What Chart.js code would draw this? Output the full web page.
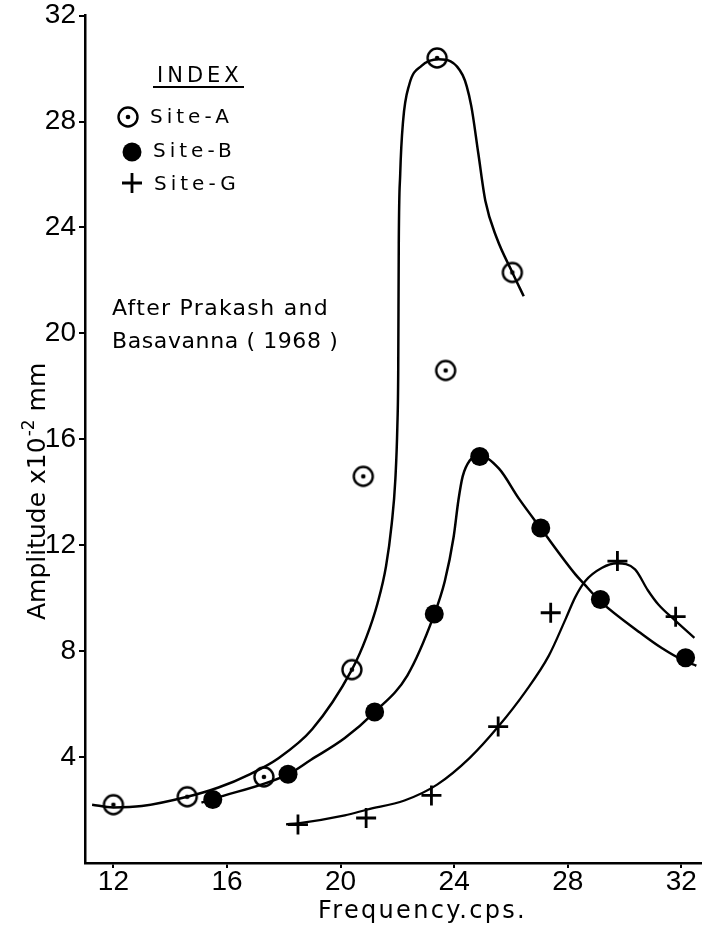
<!DOCTYPE html>
<html>
<head>
<meta charset="utf-8">
<title>Amplitude x Frequency</title>
<script src="https://cdn.jsdelivr.net/npm/chart.js@4.4.0/dist/chart.umd.min.js"></script>
<style>
  html, body { margin: 0; padding: 0; background: #fff; }
  #wrap { width: 714px; height: 930px; position: relative; }
</style>
</head>
<body>
<div id="wrap"><canvas id="grafico"></canvas></div>
<script>
// pontos medidos (frequencia em cps, amplitude x10^-2 mm)
const siteAFreq = [12, 14.6, 17.3, 20.4, 20.8, 23.7, 23.4, 26.05];
const siteAAmp  = [2.2, 2.5, 3.25, 7.3, 14.6, 18.6, 30.4, 22.3];

const siteBFreq = [15.5, 18.15, 21.2, 23.3, 24.9, 27.05, 29.15, 32.15];
const siteBAmp  = [2.4, 3.35, 5.7, 9.4, 15.35, 12.65, 9.95, 7.75];

const siteGFreq = [18.5, 20.9, 23.2, 25.55, 27.4, 29.75, 31.8];
const siteGAmp  = [1.45, 1.7, 2.55, 5.15, 9.45, 11.4, 9.3];

// curvas ajustadas, lidas ao longo do traco desenhado
const curvaAFreq = [11.25, 12, 13, 14.6, 15.7, 16.8, 17.8, 19.0, 20.4, 20.9, 21.3, 21.6, 21.8, 21.93, 22.0, 22.03, 22.05, 22.1, 22.2, 22.42, 22.85, 23.45, 24.3, 24.6, 24.85, 25.1, 25.5, 26.05, 26.45];
const curvaAAmp  = [2.2, 2.1, 2.15, 2.5, 2.85, 3.35, 3.95, 5.05, 7.3, 8.5, 9.8, 11.2, 12.8, 14.5, 16.5, 18.5, 23.4, 26.0, 28.0, 29.4, 30.1, 30.35, 29.75, 28.6, 26.8, 25.0, 23.6, 22.3, 21.4];

const curvaBFreq = [15.1, 15.5, 18.15, 18.96, 20.15, 21.2, 22.35, 23.28, 23.67, 23.98, 24.15, 24.3, 24.55, 24.9, 25.58, 26.28, 27.05, 28.27, 28.55, 29.14, 30.61, 31.31, 32.11, 32.53];
const curvaBAmp  = [2.28, 2.42, 3.35, 3.9, 4.72, 5.7, 7.08, 9.33, 10.64, 12.3, 13.7, 14.6, 15.2, 15.4, 14.89, 13.76, 12.64, 10.9, 10.57, 9.89, 8.65, 8.12, 7.63, 7.45];

const curvaGFreq = [18.08, 18.5, 20.15, 20.95, 22.25, 23.4, 24.55, 25.57, 26.53, 27.33, 27.92, 28.27, 28.62, 29.21, 29.74, 30.37, 30.82, 31.2, 31.76, 32.46];
const curvaGAmp  = [1.46, 1.5, 1.8, 2.02, 2.36, 2.96, 3.97, 5.17, 6.5, 7.82, 9.2, 10.05, 10.65, 11.15, 11.32, 11.09, 10.3, 9.75, 9.18, 8.5];

const freqTicks = [12, 16, 20, 24, 28, 32];
const ampTicks  = [4, 8, 12, 16, 20, 24, 28, 32];

const legendas = ['Site-A', 'Site-B', 'Site-G'];

function pares(xs, ys) {
  return xs.map((x, i) => ({ x: x, y: ys[i] }));
}

// circulo aberto com ponto no centro (Site-A)
function marcaSiteA() {
  const c = document.createElement('canvas');
  c.width = 26; c.height = 26;
  const g = c.getContext('2d');
  g.strokeStyle = '#000';
  g.fillStyle = '#000';
  g.lineWidth = 2.4;
  g.beginPath(); g.arc(13, 13, 9.5, 0, Math.PI * 2); g.stroke();
  g.beginPath(); g.arc(13, 13, 2.3, 0, Math.PI * 2); g.fill();
  return c;
}
const marcaA = marcaSiteA();

//#region textos: indice, nota e titulos dos eixos
const anotacoes = {
  id: 'anotacoes',
  afterDraw(chart) {
    const ctx = chart.ctx;
    ctx.save();
    ctx.fillStyle = '#000';
    ctx.strokeStyle = '#000';
    ctx.textAlign = 'left';
    ctx.textBaseline = 'alphabetic';

    ctx.font = '21px "DejaVu Sans"';
    ctx.letterSpacing = '4px';
    ctx.fillText('INDEX', 157, 82);
    ctx.lineWidth = 2;
    ctx.beginPath(); ctx.moveTo(153, 87); ctx.lineTo(244, 87); ctx.stroke();

    ctx.font = '20px "DejaVu Sans"';
    ctx.letterSpacing = '4px';
    ctx.fillText(legendas[0], 150, 123);
    ctx.fillText(legendas[1], 153, 157);
    ctx.fillText(legendas[2], 154, 190);

    // simbolos do indice
    ctx.drawImage(marcaA, 128 - 13, 117 - 13);
    ctx.beginPath(); ctx.arc(132, 152, 9.5, 0, Math.PI * 2); ctx.fill();
    ctx.lineWidth = 2.8;
    ctx.beginPath();
    ctx.moveTo(122, 183); ctx.lineTo(142, 183);
    ctx.moveTo(132, 173); ctx.lineTo(132, 193);
    ctx.stroke();

    ctx.font = '22px "DejaVu Sans"';
    ctx.letterSpacing = '1.3px';
    ctx.fillText('After Prakash and', 112, 315);
    ctx.letterSpacing = '0.6px';
    ctx.fillText('Basavanna ( 1968 )', 112, 348);

    // titulo do eixo x
    ctx.font = '24px "DejaVu Sans"';
    ctx.letterSpacing = '2.3px';
    ctx.fillText('Frequency.cps.', 318, 918);

    // titulo do eixo y, girado
    ctx.letterSpacing = '0px';
    ctx.translate(45, 620);
    ctx.rotate(-Math.PI / 2);
    ctx.font = '25px "DejaVu Sans"';
    const t1 = 'Amplitude x10';
    ctx.fillText(t1, 0, 0);
    let w = ctx.measureText(t1).width;
    ctx.font = '17px "DejaVu Sans"';
    ctx.fillText('-2', w + 1, -11);
    w += ctx.measureText('-2').width + 1;
    ctx.font = '25px "DejaVu Sans"';
    ctx.fillText(' mm', w, 0);

    ctx.restore();
  }
};
//#endregion

const ctx = document.getElementById('grafico').getContext('2d');

const estiloCurva = {
  type: 'line',
  borderColor: '#000',
  pointRadius: 0,
  cubicInterpolationMode: 'monotone',
  fill: false
};

new Chart(ctx, {
  type: 'scatter',
  data: {
    datasets: [
      {
        label: legendas[0],
        data: pares(siteAFreq, siteAAmp),
        pointStyle: marcaA,
        pointRadius: 10,
        showLine: false
      },
      {
        label: legendas[1],
        data: pares(siteBFreq, siteBAmp),
        pointStyle: 'circle',
        pointRadius: 9.5,
        backgroundColor: '#000',
        borderColor: '#000',
        borderWidth: 0,
        showLine: false
      },
      {
        label: legendas[2],
        data: pares(siteGFreq, siteGAmp),
        pointStyle: 'cross',
        pointRadius: 10,
        borderColor: '#000',
        borderWidth: 2.8,
        showLine: false
      },
      Object.assign({ label: 'curva A', data: pares(curvaAFreq, curvaAAmp), borderWidth: 2.5 }, estiloCurva),
      Object.assign({ label: 'curva B', data: pares(curvaBFreq, curvaBAmp), borderWidth: 2.5 }, estiloCurva),
      Object.assign({ label: 'curva G', data: pares(curvaGFreq, curvaGAmp), borderWidth: 2.3 }, estiloCurva)
    ]
  },
  options: {
    responsive: true,
    maintainAspectRatio: false,
    animation: false,
    layout: { padding: { top: 12, right: 7, left: 0, bottom: 0 } },
    plugins: {
      legend: { display: false },
      tooltip: { enabled: false }
    },
    scales: {
      x: {
        type: 'linear',
        min: 11,
        max: 32.7,
        afterBuildTicks: s => { s.ticks = freqTicks.map(v => ({ value: v })); },
        afterFit: s => { s.height = 67; },
        grid: { drawOnChartArea: false, color: '#000', lineWidth: 2, tickLength: 5 },
        border: { color: '#000', width: 2.5 },
        ticks: {
          color: '#000',
          font: { family: '"Liberation Sans"', size: 28, lineHeight: 0.9 },
          padding: 2,
          maxRotation: 0,
          autoSkip: false
        }
      },
      y: {
        type: 'linear',
        min: 0,
        max: 32,
        afterBuildTicks: s => { s.ticks = ampTicks.map(v => ({ value: v })); },
        afterFit: s => { s.width = 85; },
        grid: { drawOnChartArea: false, color: '#000', lineWidth: 2, tickLength: 6 },
        border: { color: '#000', width: 2.5 },
        ticks: {
          color: '#000',
          font: { family: '"Liberation Sans"', size: 28, lineHeight: 0.9 },
          padding: 3,
          autoSkip: false
        }
      }
    }
  },
  plugins: [anotacoes]
});
</script>
</body>
</html>
